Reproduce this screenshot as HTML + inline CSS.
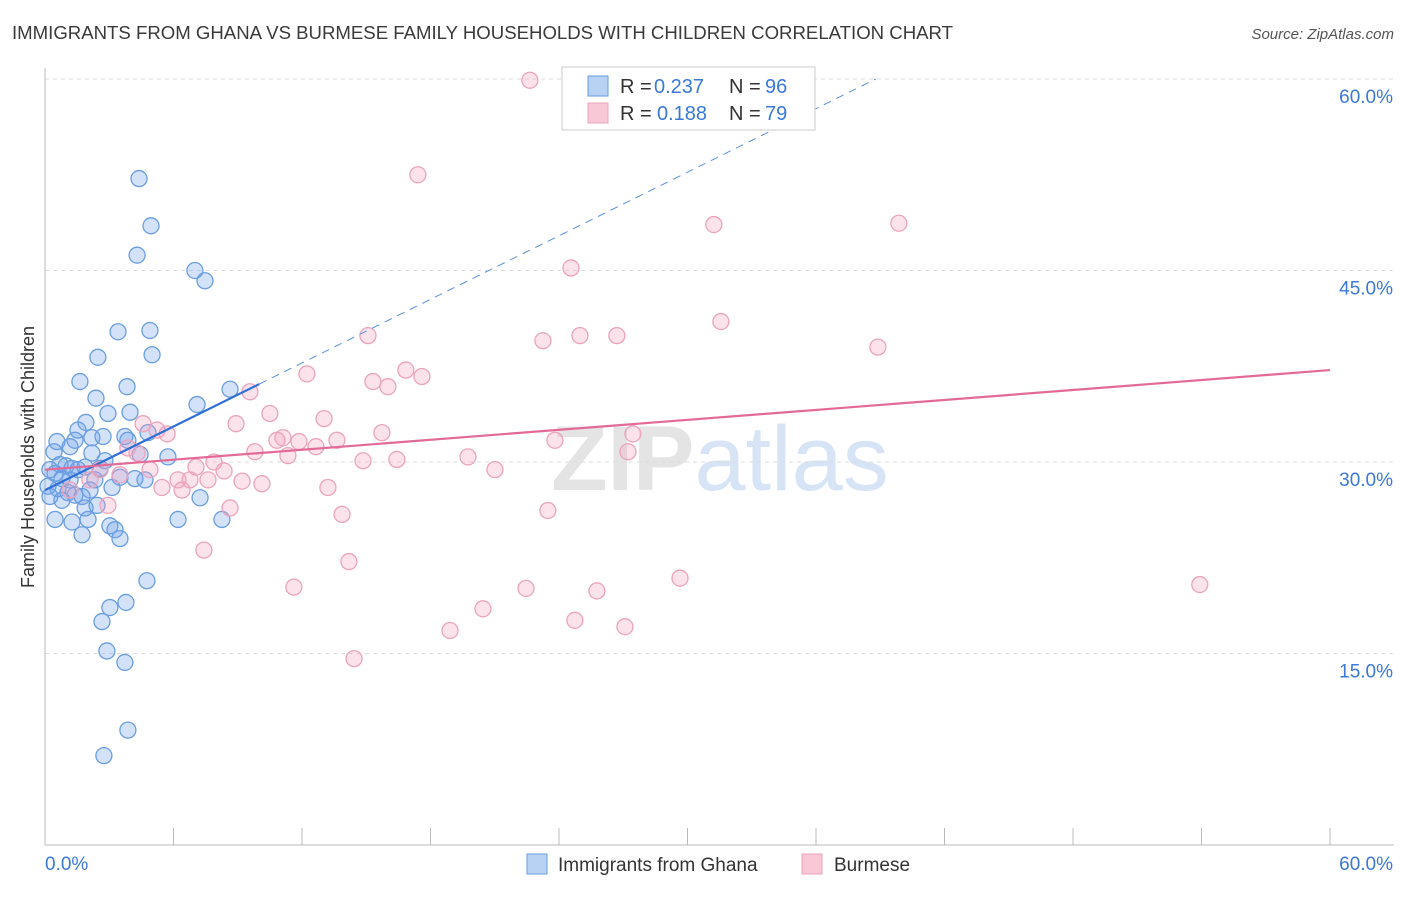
<!DOCTYPE html>
<html><head><meta charset="utf-8"><style>
body{margin:0;background:#fff;font-family:"Liberation Sans",sans-serif}
svg text{font-family:"Liberation Sans",sans-serif}
</style></head><body>
<svg id="chart" width="1406" height="892" xmlns="http://www.w3.org/2000/svg">
<text x="12" y="39" font-size="18" fill="#3a3a3a" textLength="941" lengthAdjust="spacingAndGlyphs">IMMIGRANTS FROM GHANA VS BURMESE FAMILY HOUSEHOLDS WITH CHILDREN CORRELATION CHART</text>
<text x="1394" y="39" font-size="15" fill="#555" text-anchor="end" font-style="italic">Source: ZipAtlas.com</text>
<text x="720" y="490" font-size="92" text-anchor="middle" fill="#e4e4e4" font-family="Liberation Serif" font-weight="bold">ZIP<tspan fill="#d6e4f5" font-family="Liberation Sans" font-weight="normal">atlas</tspan></text>
<g id="grid"></g>
<g id="axes"></g>
<g id="marks"></g>
<g id="trends"></g>
<text transform="translate(34,457) rotate(-90)" font-size="18" fill="#333" text-anchor="middle">Family Households with Children</text>
<g>
<rect x="562" y="67" width="253" height="63" fill="#fff" stroke="#ccc"/>
<rect x="588" y="76" width="20" height="20" fill="#b8d2f4" stroke="#6a9ee0"/>
<rect x="588" y="103" width="20" height="20" fill="#f9c8d7" stroke="#eba4bd"/>
<text x="620" y="93" font-size="20" fill="#333">R =</text>
<text x="654" y="93" font-size="20" fill="#3b78d8">0.237</text>
<text x="729" y="93" font-size="20" fill="#333">N =</text>
<text x="765" y="93" font-size="20" fill="#3b78d8">96</text>
<text x="620" y="120" font-size="20" fill="#333">R =</text>
<text x="657" y="120" font-size="20" fill="#3b78d8">0.188</text>
<text x="729" y="120" font-size="20" fill="#333">N =</text>
<text x="765" y="120" font-size="20" fill="#3b78d8">79</text>
</g>
<g>
<rect x="527" y="854" width="20" height="20" fill="#b8d2f4" stroke="#6a9ee0"/>
<text x="558" y="871" font-size="19" fill="#333">Immigrants from Ghana</text>
<rect x="802" y="854" width="20" height="20" fill="#f9c8d7" stroke="#eba4bd"/>
<text x="834" y="871" font-size="19" fill="#333">Burmese</text>
</g>
</svg>
<script>
const yTicks=[15,30,45,60];
const yTickLabels=["15.0%","30.0%","45.0%","60.0%"];
const xTickCount=10;
const ghanaX=[4.39,4.95,4.30,7.00,7.47,3.41,4.90,5.00,2.47,1.63,3.83,8.64,2.38,7.10,3.97,2.94,1.91,4.81,1.54,3.73,2.71,1.40,2.19,0.56,1.17,3.87,5.74,0.42,2.19,4.44,2.80,0.70,0.98,1.26,1.54,1.87,2.57,0.23,0.47,0.79,1.17,2.33,3.50,4.20,4.67,0.14,0.61,1.07,1.40,2.10,3.13,0.23,0.79,1.73,2.43,1.87,0.47,1.26,2.01,6.21,8.26,3.03,1.73,3.27,3.50,7.24,4.76,3.78,3.03,2.66,2.89,3.73,3.87,2.75];
const ghanaY=[52.2,48.5,46.2,45.0,44.2,40.2,40.3,38.4,38.2,36.3,35.9,35.7,35.0,34.5,33.9,33.8,33.1,32.3,32.5,32.0,32.0,31.7,31.9,31.6,31.2,31.7,30.4,30.8,30.7,30.6,30.1,29.8,29.7,29.5,29.4,29.6,29.5,29.4,29.1,28.7,28.6,28.6,28.8,28.7,28.6,28.1,27.9,27.6,27.4,27.8,28.0,27.3,27.0,27.3,26.6,26.4,25.5,25.3,25.5,25.5,25.5,25.0,24.3,24.7,24.0,27.2,20.7,19.0,18.6,17.5,15.2,14.3,9.0,7.0];
const burmeseX=[22.64,17.41,31.23,39.87,24.56,31.56,15.08,24.98,26.70,23.25,38.89,16.85,15.31,17.60,16.01,12.23,9.57,10.50,13.03,8.92,4.58,5.23,5.70,15.73,23.81,27.45,10.83,11.11,13.63,11.86,12.65,3.87,4.30,9.80,27.22,11.34,19.75,16.43,14.85,7.89,7.05,21.01,8.36,4.90,6.21,6.77,7.61,9.20,10.13,13.21,6.40,5.46,2.94,8.64,13.87,23.48,7.42,14.19,11.62,29.65,22.46,25.77,53.92,20.45,24.74,27.08,18.91,14.43,2.57,1.17,2.10,3.50];
const burmeseY=[59.9,52.5,48.6,48.7,45.2,41.0,39.9,39.9,39.9,39.5,39.0,37.2,36.3,36.7,35.9,36.9,35.5,33.8,33.4,33.0,33.0,32.5,32.2,32.3,31.7,32.2,31.7,31.9,31.7,31.6,31.2,31.1,30.7,30.8,30.8,30.5,30.4,30.2,30.1,30.0,29.6,29.4,29.3,29.4,28.6,28.6,28.6,28.5,28.3,28.0,27.8,28.0,26.6,26.4,25.9,26.2,23.1,22.2,20.2,20.9,20.1,19.9,20.4,18.5,17.6,17.1,16.8,14.6,29.4,27.8,28.6,29.0];
const ghanaTrend=[27.8,0.83];
const burmeseTrend=[29.4,0.13];
const NS="http://www.w3.org/2000/svg";
const X0=45,X1=1330,Y0=845,YTOP=79;
const sx=v=>X0+v/60*(X1-X0);
const sy=v=>Y0-v/60*(Y0-YTOP);
function mk(t,a,p){const e=document.createElementNS(NS,t);for(const k in a)e.setAttribute(k,a[k]);p.appendChild(e);return e;}
const grid=document.getElementById('grid'),axes=document.getElementById('axes'),marks=document.getElementById('marks'),trends=document.getElementById('trends');
yTicks.forEach((t,i)=>{
 const l=mk('line',{x1:X0,x2:1394,y1:sy(t),y2:sy(t),stroke:'#ddd','stroke-dasharray':'4,4'},grid);
 
 
 const tx=mk('text',{x:1393,y:sy(t)+24,'font-size':19,fill:'#3b78d8','text-anchor':'end'},axes);
 tx.textContent=yTickLabels[i];
 
 
});
const ax=mk('line',{x1:X0,x2:1394,y1:Y0,y2:Y0,stroke:'#bbb'},axes);


const ay=mk('line',{x1:X0,x2:X0,y1:68,y2:Y0,stroke:'#bbb'},axes);


for(let i=1;i<=xTickCount;i++){
 const v=60*i/xTickCount;
 const t=mk('line',{x1:sx(v),x2:sx(v),y1:Y0,y2:Y0-17,stroke:'#bbb'},axes);
 
 
}
const xl=mk('text',{x:45,y:870,'font-size':19,fill:'#3b78d8'},axes);xl.textContent='0.0%';


const xr=mk('text',{x:1393,y:870,'font-size':19,fill:'#3b78d8','text-anchor':'end'},axes);xr.textContent='60.0%';


ghanaX.forEach((x,i)=>{
 const c=mk('circle',{cx:sx(x),cy:sy(ghanaY[i]),r:8,fill:'rgba(110,160,235,0.3)',stroke:'#6a9ee0','stroke-width':1.3},marks);
 
 
});
burmeseX.forEach((x,i)=>{
 const c=mk('circle',{cx:sx(x),cy:sy(burmeseY[i]),r:8,fill:'rgba(245,160,190,0.3)',stroke:'#eba4bd','stroke-width':1.3},marks);
 
 
});
const gSolidEnd=10;
const gEnd=(60-ghanaTrend[0])/ghanaTrend[1];
const gd=mk('line',{x1:sx(gSolidEnd),y1:sy(ghanaTrend[0]+ghanaTrend[1]*gSolidEnd),x2:sx(gEnd),y2:sy(60),stroke:'#5b92e0','stroke-dasharray':'8,6','stroke-width':1},trends);


const gs=mk('line',{x1:sx(0),y1:sy(ghanaTrend[0]),x2:sx(gSolidEnd),y2:sy(ghanaTrend[0]+ghanaTrend[1]*gSolidEnd),stroke:'#2f6fd6','stroke-width':2.2},trends);


const bs=mk('line',{x1:sx(0),y1:sy(burmeseTrend[0]),x2:sx(60),y2:sy(burmeseTrend[0]+burmeseTrend[1]*60),stroke:'#e36a97','stroke-width':2.2},trends);


</script>
</body></html>
